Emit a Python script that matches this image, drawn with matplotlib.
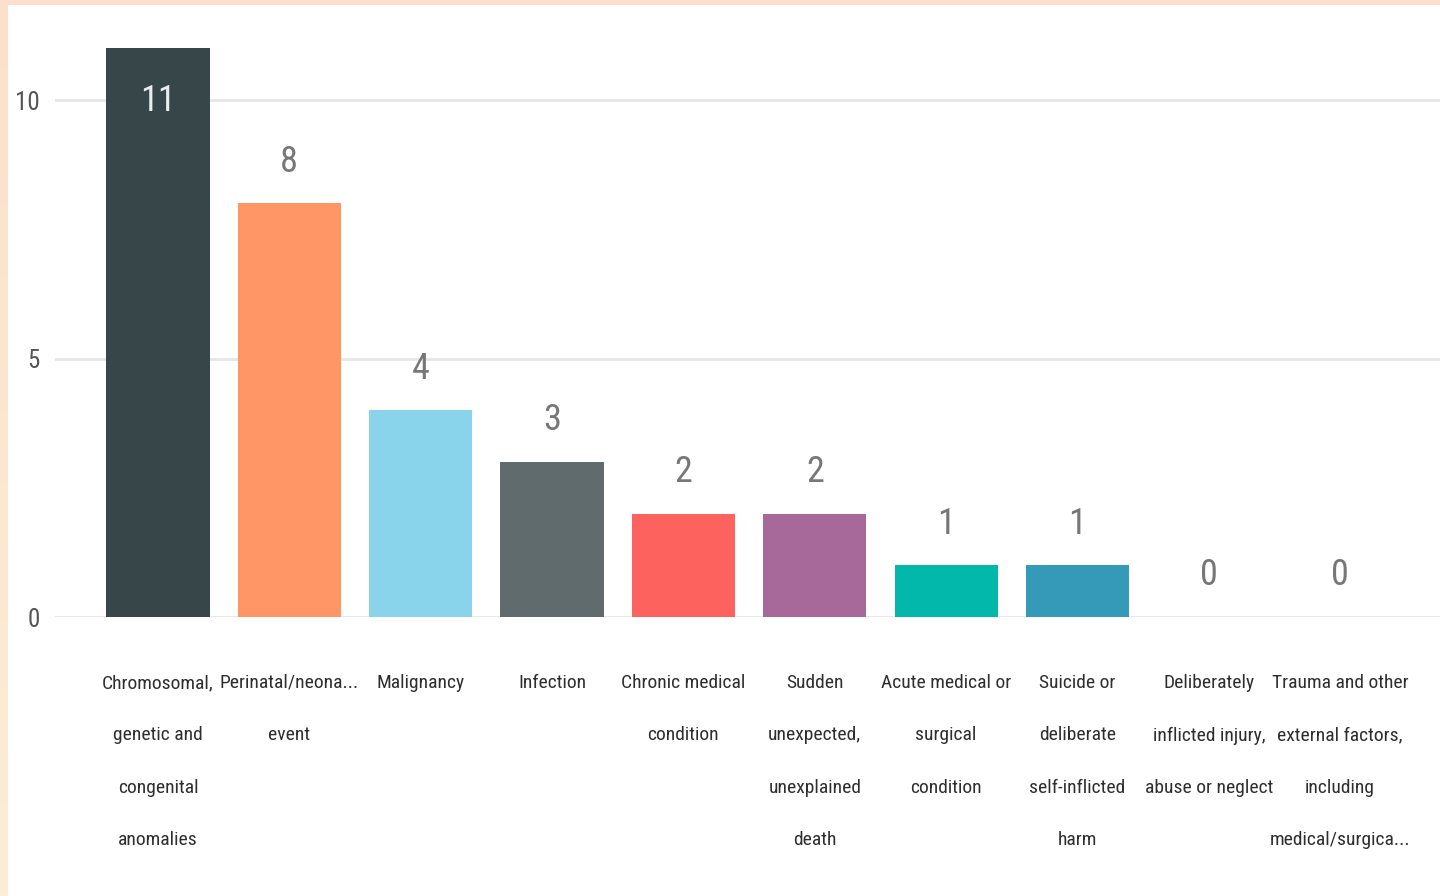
import matplotlib.pyplot as plt
import numpy as np
from matplotlib import font_manager
import matplotlib.patches as mpatches

# data
categories = ["Chromosomal,\ngenetic and\ncongenital\nanomalies",
              "Perinatal/neona...\nevent",
              "Malignancy",
              "Infection",
              "Chronic medical\ncondition",
              "Sudden\nunexpected,\nunexplained\ndeath",
              "Acute medical or\nsurgical\ncondition",
              "Suicide or\ndeliberate\nself-inflicted\nharm",
              "Deliberately\ninflicted injury,\nabuse or neglect",
              "Trauma and other\nexternal factors,\nincluding\nmedical/surgica..."]
counts = [11, 8, 4, 3, 2, 2, 1, 1, 0, 0]
colors = ["#374649", "#FE9666", "#8AD4EB", "#5F6B6D", "#FD625E",
          "#A66999", "#01B8AA", "#3599B8", "#DFBFBF", "#4AC5BB"]
yticks = [0, 5, 10]


def weight_num(w):
    if isinstance(w, (int, float)):
        return w
    return font_manager.weight_dict.get(str(w).lower(), 400)


# narrow font in a regular weight, if there is one
font = "DejaVu Sans"
found = {}
for f in font_manager.fontManager.ttflist:
    if f.style != "normal":
        continue
    if ("Narrow" in f.name or "Condensed" in f.name or f.stretch in ("condensed", "semi-condensed")) \
            and weight_num(f.weight) <= 400:
        found[f.name] = max(found.get(f.name, 0), weight_num(f.weight))
for cand in ["Liberation Sans Narrow", "DejaVu Sans Condensed", "Open Sans Condensed", "Roboto Condensed"]:
    if cand in found:
        font = cand
        break
else:
    if found:
        font = sorted(found)[0]
plt.rcParams['font.family'] = [font, 'DejaVu Sans']
plt.rcParams['font.weight'] = found.get(font, 400)

W, H = 1440, 896
fig = plt.figure(figsize=(W / 100, H / 100), dpi=100)

# peach frame on the left and top
bg = fig.add_axes([0, 0, 1, 1], zorder=-10)
grad = np.linspace(0, 1, 256).reshape(-1, 1)
top_c = np.array([252, 224, 204]) / 255
bot_c = np.array([253, 237, 214]) / 255
img = top_c[None, None, :] * (1 - grad[:, :, None]) + bot_c[None, None, :] * grad[:, :, None]
bg.imshow(img, aspect='auto', extent=[0, 1, 0, 1])
bg.add_patch(mpatches.Rectangle((8 / W, 0), 1, 1 - 5 / H, color="white", lw=0))
bg.set_xlim(0, 1)
bg.set_ylim(0, 1)
bg.axis("off")

# main axes: y=0 at pixel 617, 51.7 px per unit
ax_left = 55 / W
ax_bottom = (H - 617) / H
ax_top_px = 10
ymax = (617 - ax_top_px) / 51.7
ax = fig.add_axes([ax_left, ax_bottom, 1 - ax_left, (617 - ax_top_px) / H])
ax.patch.set_alpha(0)

x = np.arange(len(categories))
ax.bar(x, counts, width=0.785, color=colors, zorder=3)

ax.set_xlim(-0.784, 9.76)
ax.set_ylim(0, ymax)
ax.set_yticks(yticks)
ax.set_yticklabels([str(t) for t in yticks], fontsize=18, color="#555555")
ax.yaxis.grid(True, color="#e6e6e6", lw=2, zorder=0)
ax.tick_params(axis='y', length=0, pad=11)
ax.set_xticks(x)
ax.set_xticklabels(categories, fontsize=14, color="#2e2e2e", linespacing=3.45, va="top")
ax.tick_params(axis='x', length=0, pad=41)
for s in ax.spines.values():
    s.set_visible(False)

for i in range(len(counts)):
    if counts[i] >= 11:
        ax.annotate(str(counts[i]), (x[i], counts[i]), xytext=(0, -38), textcoords="offset points",
                    ha="center", va="center", fontsize=26, color="#e8eef0", zorder=4)
    else:
        ax.annotate(str(counts[i]), (x[i], counts[i]), xytext=(0, 30), textcoords="offset points",
                    ha="center", va="center", fontsize=26, color="#777777", zorder=4)

fig.savefig("out.png", dpi=100)
